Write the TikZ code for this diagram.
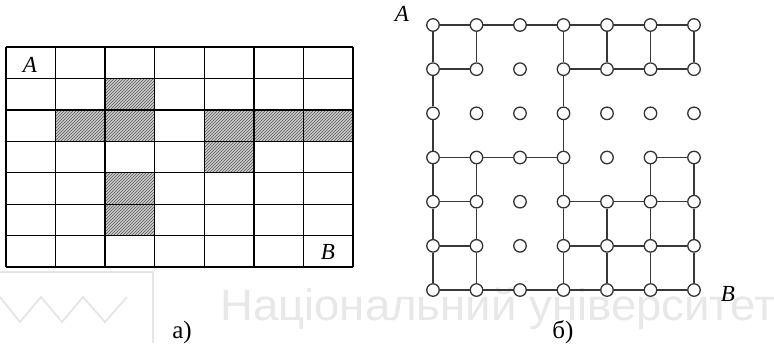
\documentclass[tikz,border=0pt]{standalone}
\usepackage{fontspec}
\setmainfont{Liberation Serif}
\newfontfamily\wmfont{Liberation Sans}
\usetikzlibrary{patterns}
\begin{document}
\begin{tikzpicture}[x=1pt,y=-1pt,
  gridline/.style={line width=1.3pt,black},
  hatchcell/.style={fill=gray!40, postaction={pattern=north east lines, pattern color=black!65}},
  vtx/.style={circle,draw=black!80,fill=white,line width=1.3pt,minimum size=12.5pt,inner sep=0pt},
  link/.style={line width=1.6pt,black!78},
  lbl/.style={font=\fontsize{23}{27}\selectfont\itshape},
  capt/.style={font=\fontsize{25}{29}\selectfont},
  wm/.style={font=\wmfont\fontsize{44}{50}\selectfont, text=black!9},
  logo/.style={line width=2.5pt, black!10}]
\useasboundingbox (0,0) rectangle (774,343);
% watermark and logo
\node[wm,anchor=base west,inner sep=0pt,xscale=1.035] (wmtext) at (220,320) {Національний університет};
\draw[logo] (0,272) -- (153,272) -- (153,343);
\draw[logo,line width=1.8pt] (0,297) -- (20,322) -- (41,297) -- (62,322) -- (83,297) -- (105,322) -- (127,297);
% left grid: hatched cells
\foreach \r/\c in {1/2,2/1,2/2,2/4,2/5,2/6,3/4,4/2,5/2}
  \fill[hatchcell] ({6+49.57*\c},{47+31.43*\r}) rectangle ++(49.57,31.43);
\foreach \i in {0,...,7} {
  \draw[gridline] ({6+49.57*\i},47) -- ({6+49.57*\i},267);
  \draw[gridline] (6,{47+31.43*\i}) -- (353,{47+31.43*\i});
}
\node[lbl] (la) at (30,65) {A};
\node[lbl] (lb) at (328,252) {B};
% right graph
\foreach \r in {0,...,6}
  \foreach \c in {0,...,6}
    \node[vtx] (v\r\c) at ({433+43.5*\c},{25+44.17*\r}) {};
% horizontal links
\foreach \r/\c [evaluate=\c as \d using int(\c+1)] in
  {0/0,0/1,0/2,0/3,0/4,0/5,
   1/0,1/3,1/4,1/5,
   3/0,3/1,3/2,3/5,
   4/0,4/3,4/4,4/5,
   5/0,5/3,5/4,5/5,
   6/0,6/1,6/2,6/3,6/4,6/5}
  \draw[link] (v\r\c) -- (v\r\d);
% vertical links
\foreach \c/\r [evaluate=\r as \s using int(\r+1)] in
  {0/0,0/1,0/2,0/3,0/4,0/5,
   1/0,1/3,1/4,1/5,
   3/0,3/1,3/2,3/3,3/4,3/5,
   4/0,4/4,4/5,
   5/0,5/3,5/4,5/5,
   6/0,6/3,6/4,6/5}
  \draw[link] (v\r\c) -- (v\s\c);
\node[lbl] (ga) at (402,14) {A};
\node[lbl] (gb) at (728,294) {B};
\node[capt,anchor=base] (capa) at (182,338) {а)};
\node[capt,anchor=base] (capb) at (563,338) {б)};
\end{tikzpicture}
\end{document}
